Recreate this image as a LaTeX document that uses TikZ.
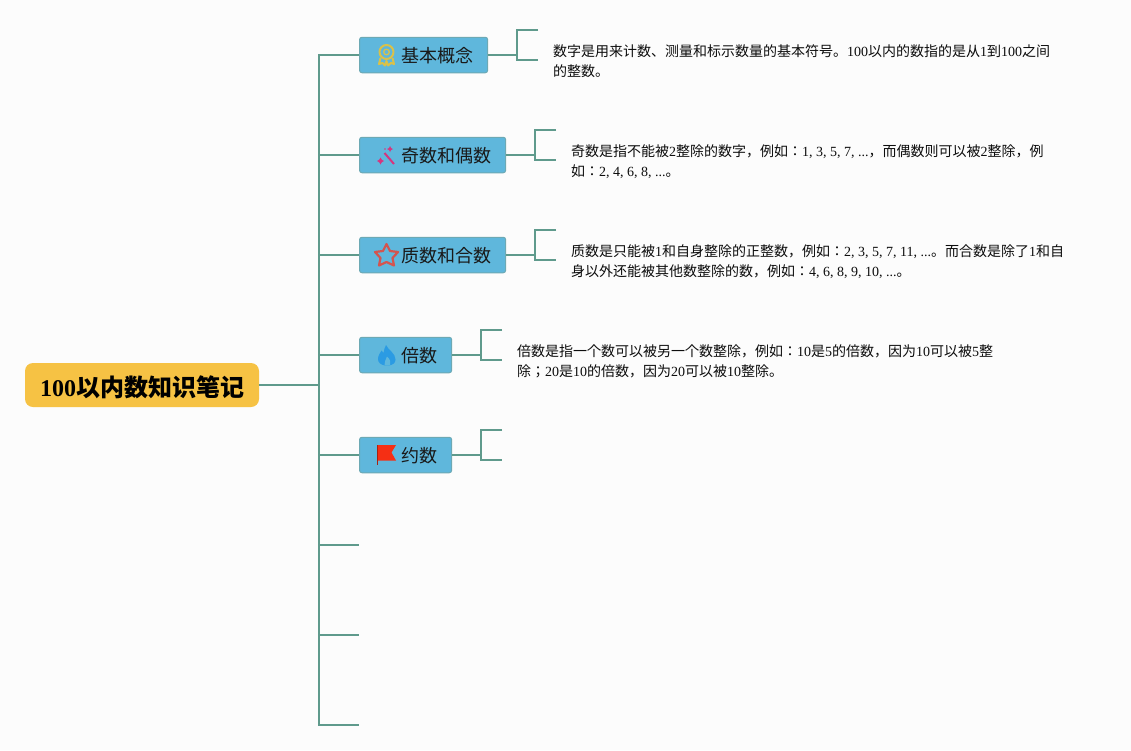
\documentclass[tikz,border=0pt]{standalone}
\usepackage{fontspec}
\setmainfont{Liberation Serif}
\newfontfamily\cjk{Noto Sans CJK JP}
\newcommand{\zh}[1]{{\cjk #1}}
\definecolor{bgc}{HTML}{FCFCFC}
\definecolor{linec}{HTML}{5F9A8C}
\definecolor{topicfill}{HTML}{5FB7DC}
\definecolor{topicdraw}{HTML}{6DA9B4}
\definecolor{rootfill}{HTML}{F6C244}
\definecolor{medalc}{HTML}{D9C14A}
\definecolor{wandc}{HTML}{D6357F}
\definecolor{starc}{HTML}{D4544F}
\definecolor{flamec}{HTML}{2B9BE3}
\definecolor{flagc}{HTML}{F52F14}
\tikzset{
  x=1pt,y=-1pt,
  conn/.style={draw=linec,line width=2.2pt},
  topic/.style={draw=topicdraw,fill=topicfill,line width=1pt,rounded corners=2.5pt,anchor=west,
    minimum height=35.5pt,inner xsep=14.6pt,inner ysep=0pt,text height=16.5pt,text depth=2.5pt,
    font=\fontsize{18}{18}\selectfont\cjk,text=black!90},
  rootbox/.style={fill=rootfill,rounded corners=8pt,anchor=center,minimum width=234pt,minimum height=44pt,
    inner sep=0pt,text height=24pt,text depth=2pt,font=\fontsize{24}{24}\selectfont\bfseries,text=black},
  desc/.style={anchor=west,align=left,inner sep=0pt,font=\fontsize{14}{20}\selectfont,text=black!95},
}
\begin{document}
\begin{tikzpicture}
\useasboundingbox[fill=bgc] (0,0) rectangle (1131,750);
% nodes
\node[rootbox] (root) at (142,385) {100\zh{以内数知识笔记}};
\node[topic] (t1) at (359,55) {\hspace*{27pt}基本概念};
\node[topic] (t2) at (359,155) {\hspace*{27pt}奇数和偶数};
\node[topic] (t3) at (359,255) {\hspace*{27pt}质数和合数};
\node[topic] (t4) at (359,355) {\hspace*{27pt}倍数};
\node[topic] (t5) at (359,455) {\hspace*{27pt}约数};
\node[desc] (d1) at (553,62) {\strut\zh{数字是用来计数、测量和标示数量的基本符号。}100\zh{以内的数指的是从}1\zh{到}100\zh{之间}\\\strut\zh{的整数。}};
\node[desc] (d2) at (571,162) {\strut\zh{奇数是指不能被}2\zh{整除的数字，例如：}1, 3, 5, 7, ...\zh{，而偶数则可以被}2\zh{整除，例}\\\strut\zh{如：}2, 4, 6, 8, ...\zh{。}};
\node[desc] (d3) at (571,262) {\strut\zh{质数是只能被}1\zh{和自身整除的正整数，例如：}2, 3, 5, 7, 11, ...\zh{。而合数是除了}1\zh{和自}\\\strut\zh{身以外还能被其他数整除的数，例如：}4, 6, 8, 9, 10, ...\zh{。}};
\node[desc] (d4) at (517,362) {\strut\zh{倍数是指一个数可以被另一个数整除，例如：}10\zh{是}5\zh{的倍数，因为}10\zh{可以被}5\zh{整}\\\strut\zh{除；}20\zh{是}10\zh{的倍数，因为}20\zh{可以被}10\zh{整除。}};
% trunk coordinates
\coordinate (hub) at (319,385);
\coordinate (top) at (319,55);
\coordinate (bot) at (319,725);
\coordinate (e6a) at (319,545); \coordinate (e6) at (359,545);
\coordinate (e7a) at (319,635); \coordinate (e7) at (359,635);
\coordinate (e8) at (359,725);
\draw[conn] (root.east) -- (hub);
\draw[conn] (t1.west) -- (top) -- (bot) -- (e8);
\draw[conn] (e6a) -- (e6);
\draw[conn] (e7a) -- (e7);
\foreach \n/\y in {2/155,3/255,4/355,5/455}{
  \coordinate (a\n) at (319,\y);
  \draw[conn] (a\n) -- (t\n.west);
}
% brackets
\foreach \n/\x/\y in {1/517/55,2/535/155,3/535/255,4/481/355,5/481/455}{
  \coordinate (j\n) at (\x,\y);
  \coordinate (ua\n) at (\x,\y-25);
  \coordinate (ub\n) at (\x+21,\y-25);
  \coordinate (la\n) at (\x,\y+5);
  \coordinate (lb\n) at (\x+21,\y+5);
  \draw[conn] (t\n.east) -- (j\n);
  \draw[conn] (ub\n) -- (ua\n) -- (la\n) -- (lb\n);
}
% medal icon
\begin{scope}[draw=medalc,line width=2pt,line join=round]
  \draw (386.5,52) circle[radius=7];
  \draw[line width=1.3pt] (386.5,52) circle[radius=2.8];
  \draw (380.5,58) -- (379,64) -- (382.5,63) -- (385,65.5) -- (386.5,61) -- (388,65.5) -- (391,63) -- (394,64) -- (392.5,58);
\end{scope}
% wand icon
\begin{scope}[wandc]
  \draw[line width=2pt] (384.5,153) -- (394,164);
  \fill (390,146) -- (391,148) -- (393,149) -- (391,150) -- (390,152) -- (389,150) -- (387,149) -- (389,148) -- cycle;
  \fill (380.5,157.5) -- (381.8,159.7) -- (384,161) -- (381.8,162.3) -- (380.5,164.5) -- (379.2,162.3) -- (377,161) -- (379.2,159.7) -- cycle;
  \fill (385,149) circle[radius=.9];
\end{scope}
% star icon
\draw[draw=starc,line width=2.2pt,line join=round]
  (386.5,244) -- (390,251) -- (398,252) -- (392.5,258) -- (394,265.5) -- (386.5,262) -- (379,265.5) -- (380.5,258) -- (375,252) -- (383,251) -- cycle;
% flame icon
\fill[flamec] (386,345) .. controls (388,350) and (395.5,353) .. (395.5,359.5)
  .. controls (395.5,362) and (394,365.5) .. (387,365.5)
  .. controls (380,365.5) and (378,362) .. (378,359)
  .. controls (378,355) and (380.5,353) .. (381.5,350.5)
  .. controls (382,352) and (382.5,352.5) .. (383.5,353)
  .. controls (384,350.5) and (384.5,347.5) .. (386,345) -- cycle;
\fill[topicfill] (387,356.5) .. controls (390,359) and (391,362) .. (390,365)
  .. controls (388,365.5) and (386,365.5) .. (384.5,365)
  .. controls (383.5,362) and (386.5,360) .. (387,356.5) -- cycle;
% flag icon
\draw[draw=flagc!70!black,line width=1pt] (377.5,445) -- (377.5,465);
\fill[flagc] (378,445) -- (396,445) -- (391.5,452.5) -- (396,460.5) -- (378,460.5) -- cycle;
\end{tikzpicture}
\end{document}
